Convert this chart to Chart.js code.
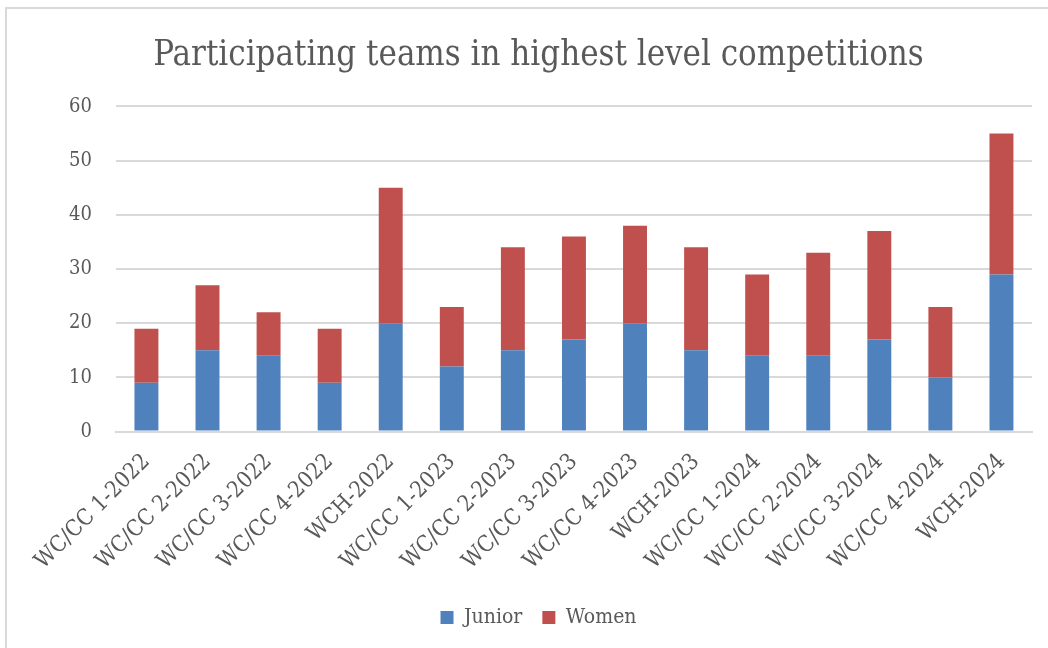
<!DOCTYPE html>
<html>
<head>
<meta charset="utf-8">
<script src="https://cdn.jsdelivr.net/npm/chart.js@4"></script>
<style>
    body { margin: 0; background: #fff; }
    #wrap {
        position: absolute; left: 5px; top: 7px;
        width: 1045px; height: 643px;
        border-left: 2px solid #d9d9d9; border-top: 2px solid #d9d9d9;
    }
    canvas { display: block; }
</style>
</head>
<body>
<div id="wrap"><canvas id="teamsChart" width="1045" height="643"></canvas></div>
<script>
'use strict';

const competitions = [
    'WC/CC 1-2022', 'WC/CC 2-2022', 'WC/CC 3-2022', 'WC/CC 4-2022', 'WCH-2022',
    'WC/CC 1-2023', 'WC/CC 2-2023', 'WC/CC 3-2023', 'WC/CC 4-2023', 'WCH-2023',
    'WC/CC 1-2024', 'WC/CC 2-2024', 'WC/CC 3-2024', 'WC/CC 4-2024', 'WCH-2024'
];
const juniorTeams = [9, 15, 14, 9, 20, 12, 15, 17, 20, 15, 14, 14, 17, 10, 29];
const womenTeams = [10, 12, 8, 10, 25, 11, 19, 19, 18, 19, 15, 19, 20, 13, 26];
const yTicks = [0, 10, 20, 30, 40, 50, 60];

const serif = "'DejaVu Serif Condensed', 'Liberation Serif', serif";
const textColor = '#595959';
const gridColor = '#d9d9d9';

const ctx = document.getElementById('teamsChart').getContext('2d');

new Chart(ctx, {
    type: 'bar',
    data: {
        labels: competitions,
        datasets: [
            {
                label: 'Junior',
                data: juniorTeams,
                backgroundColor: '#4f81bd',
                barPercentage: 0.8,
                categoryPercentage: 0.49
            },
            {
                label: 'Women',
                data: womenTeams,
                backgroundColor: '#c0504d',
                barPercentage: 0.8,
                categoryPercentage: 0.49
            }
        ]
    },
    options: {
        responsive: false,
        animation: false,
        layout: {
            padding: { left: 38, right: 20, top: 10, bottom: 14 }
        },
        plugins: {
            title: {
                display: true,
                text: 'Participating teams in highest level competitions',
                color: textColor,
                font: { family: serif, size: 34.5, weight: 'normal' },
                padding: { top: 16, bottom: 30 }
            },
            legend: {
                position: 'bottom',
                labels: {
                    color: textColor,
                    font: { family: serif, size: 21 },
                    boxWidth: 13,
                    boxHeight: 13,
                    padding: 20
                }
            },
            tooltip: { enabled: false }
        },
        scales: {
            x: {
                stacked: true,
                grid: { display: false },
                border: { color: gridColor, width: 2 },
                // leave a gap between the slanted labels and the legend
                afterFit: scale => { scale.height += 3; },
                ticks: {
                    color: textColor,
                    font: { family: serif, size: 22.5 },
                    minRotation: 45,
                    maxRotation: 45,
                    autoSkip: false,
                    padding: 9
                }
            },
            y: {
                stacked: true,
                min: 0,
                max: 60,
                afterBuildTicks: axis => {
                    axis.ticks = yTicks.map(v => ({ value: v }));
                },
                grid: { color: gridColor, lineWidth: 2, drawTicks: false },
                border: { display: false },
                ticks: {
                    color: textColor,
                    font: { family: serif, size: 20 },
                    padding: 24
                }
            }
        }
    }
});
</script>
</body>
</html>
